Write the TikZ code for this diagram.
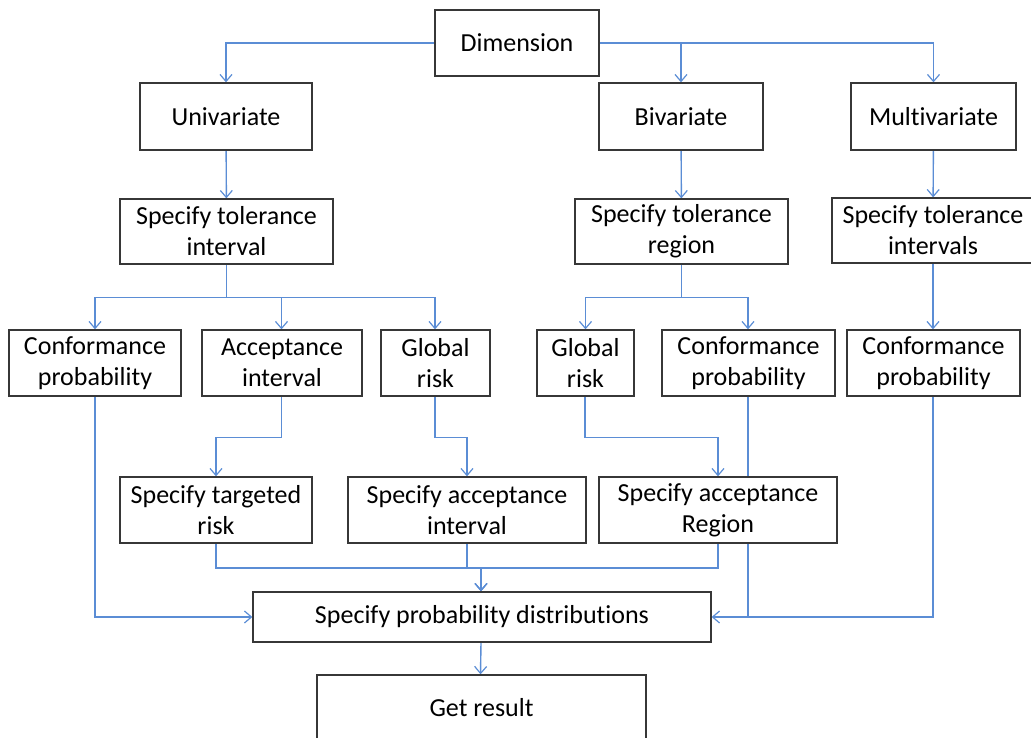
\documentclass[tikz,border=0pt]{standalone}
\usepackage{fontspec}
\setmainfont{Carlito}[Ligatures=NoCommon]
\usetikzlibrary{arrows.meta,backgrounds}
\definecolor{conn}{RGB}{91,141,213}
\definecolor{edge}{RGB}{55,55,55}
\tikzset{
  box/.style={draw=edge, line width=1.3pt, fill=white, inner sep=0pt, align=center,
    font=\fontsize{26}{31}\selectfont},
  conline/.style={draw=conn, line width=1.4pt},
  conarrow/.style={conline, -{Straight Barb[length=7pt,width=12pt,line width=1.2pt]}},
}
\begin{document}
\begin{tikzpicture}[x=1pt,y=-1pt]
\useasboundingbox (0,0) rectangle (1031,738);
\clip (0,0) rectangle (1031,738);
% nodes
\node[box, minimum width=164, minimum height=66] (dim) at (517,43) {Dimension};
\node[box, minimum width=172, minimum height=67] (uni) at (226,116.5) {Univariate};
\node[box, minimum width=164, minimum height=67] (biv) at (681,116.5) {Bivariate};
\node[box, minimum width=165, minimum height=67] (mul) at (933.5,116.5) {Multivariate};
\node[box, minimum width=213, minimum height=65] (tolint) at (226.5,231.5) {Specify tolerance\\interval};
\node[box, minimum width=213, minimum height=65] (tolreg) at (681.5,231.5) {Specify tolerance\\region};
\node[box, minimum width=202, minimum height=65] (tolints) at (933,230.5) {Specify tolerance\\intervals};
\node[box, minimum width=172, minimum height=66] (confL) at (95,363) {Conformance\\probability};
\node[box, minimum width=160, minimum height=66] (accint) at (282,363) {Acceptance\\interval};
\node[box, minimum width=109, minimum height=66] (globL) at (435.5,363) {Global\\risk};
\node[box, minimum width=97, minimum height=66] (globR) at (585.5,363) {Global\\risk};
\node[box, minimum width=173, minimum height=66] (confM) at (748.5,363) {Conformance\\probability};
\node[box, minimum width=173, minimum height=66] (confR) at (933.5,363) {Conformance\\probability};
\node[box, minimum width=192, minimum height=66] (targ) at (216,510) {Specify targeted\\risk};
\node[box, minimum width=238, minimum height=66] (accspec) at (467,510) {Specify acceptance\\interval};
\node[box, minimum width=238, minimum height=66] (region) at (718,510) {Specify acceptance\\Region};
\node[box, minimum width=458, minimum height=50] (dist) at (482,617) {Specify probability distributions};
\node[box, minimum width=329, minimum height=66] (get) at (481.5,708) {Get result};
% connector junction points
\coordinate (dimR) at (587,43);
\coordinate (j1) at (481,568);
\coordinate (j2) at (748,617);
\begin{scope}[on background layer]
\draw[conarrow] (dim.west) -| (uni.north);
\draw[conarrow] (dimR) -| (biv.north);
\draw[conarrow] (dimR) -| (mul.north);
\draw[conarrow] (uni) -- (tolint);
\draw[conarrow] (biv) -- (tolreg);
\draw[conarrow] (mul) -- (tolints);
\draw[conarrow] (tolint.south) -- ++(0,33) -| (confL.north);
\draw[conarrow] (tolint.south) ++(0,33) -| ([xshift=-0.5pt]accint.north);
\draw[conarrow] (tolint.south) ++(0,33) -| ([xshift=-0.5pt]globL.north);
\draw[conarrow] (tolreg.south) -- ++(0,33) -| (globR.north);
\draw[conarrow] (tolreg.south) ++(0,33) -| ([xshift=-0.5pt]confM.north);
\draw[conarrow] (tolints) -- ([xshift=-0.5pt]confR.north);
\draw[conarrow] ([xshift=-0.5pt]accint.south) -- ++(0,41) -| (targ.north);
\draw[conarrow] ([xshift=-0.5pt]globL.south) -- ++(0,41) -| (accspec.north);
\draw[conarrow] ([xshift=-0.5pt]globR.south) -- ++(0,41) -| (region.north);
\draw[conarrow] (confL.south) |- (dist.west);
\draw[conarrow] ([xshift=-0.5pt]confM.south) |- (dist.east);
\draw[conline] ([xshift=-0.5pt]confR.south) |- (j2);
\draw[conarrow] (targ.south) |- (j1) -- (j1 |- dist.north);
\draw[conarrow] (accspec.south) |- (j1) -- (j1 |- dist.north);
\draw[conarrow] (region.south) |- (j1) -- (j1 |- dist.north);
\draw[conarrow] ([xshift=-1pt]dist.south) -- ([xshift=-1pt]get.north);
\end{scope}
\end{tikzpicture}
\end{document}
